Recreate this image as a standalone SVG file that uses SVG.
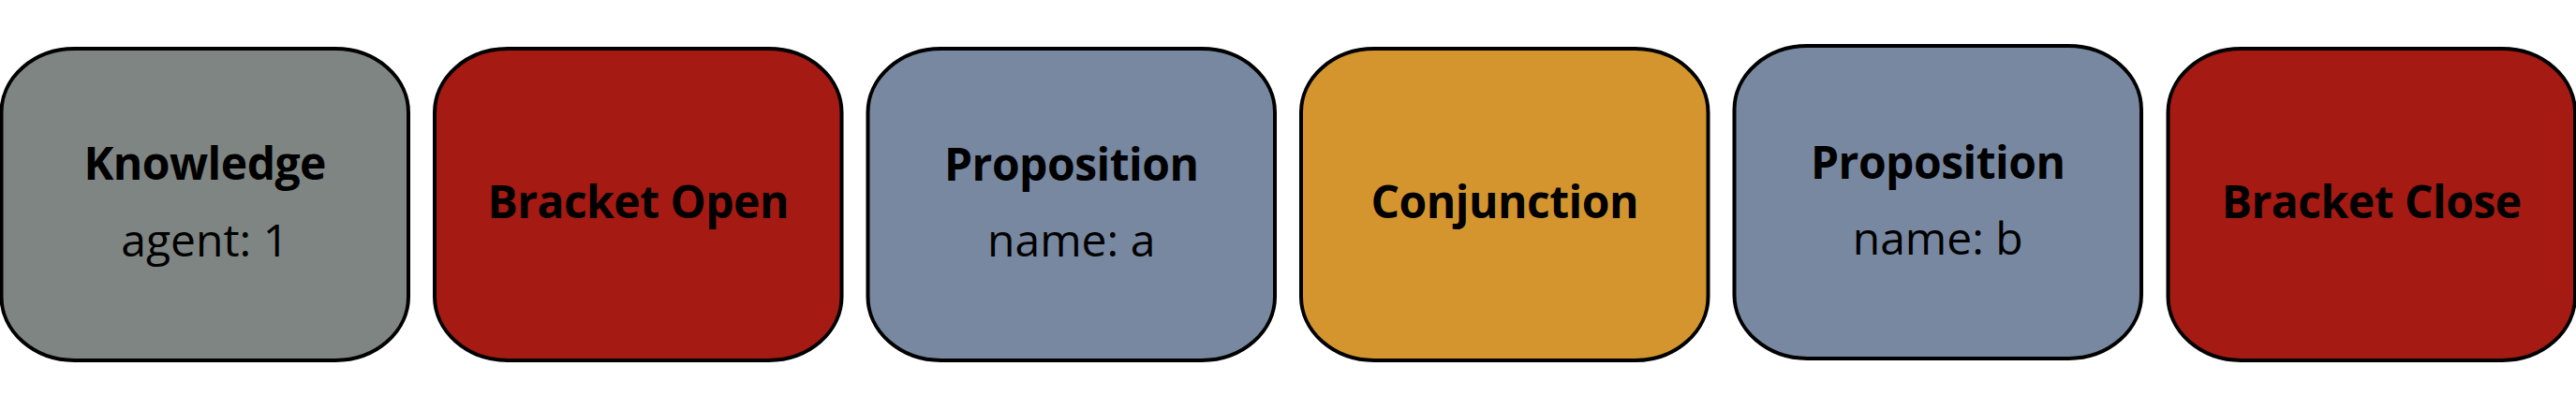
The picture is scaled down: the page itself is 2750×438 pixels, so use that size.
<svg xmlns="http://www.w3.org/2000/svg" width="2750" height="438" viewBox="0 0 2750 438">
<style>
.box{stroke:#000;stroke-width:4}
.t{font-family:"Open Sans","Noto Sans","Liberation Sans",sans-serif;font-size:48px;text-anchor:middle;fill:#000}
.b{font-weight:700;letter-spacing:-0.5px}
.gray{fill:#7f8582}
.red{fill:#a51a12}
.blue{fill:#7788a0}
.orange{fill:#d4952e}
</style>
<rect width="2750" height="438" fill="#fff"/>
<g id="connectors"></g>
<g id="node-knowledge">
<rect class="box gray" x="1.5" y="52" width="434.5" height="333" rx="78" ry="68"/>
<text class="t b" x="218.7" y="192">Knowledge</text>
<text class="t" x="218.7" y="274">agent: 1</text>
</g>
<g id="node-bracket-open">
<rect class="box red" x="464" y="52" width="434.5" height="333" rx="78" ry="68"/>
<text class="t b" x="681.2" y="232.7">Bracket Open</text>
</g>
<g id="node-proposition-a">
<rect class="box blue" x="926.5" y="52" width="434.5" height="333" rx="78" ry="68"/>
<text class="t b" x="1143.7" y="192.5">Proposition</text>
<text class="t" x="1143.7" y="274">name: a</text>
</g>
<g id="node-conjunction">
<rect class="box orange" x="1389" y="52" width="434.5" height="333" rx="78" ry="68"/>
<text class="t b" x="1606.2" y="232.7">Conjunction</text>
</g>
<g id="node-proposition-b">
<rect class="box blue" x="1851.5" y="49" width="434.5" height="334" rx="78" ry="68"/>
<text class="t b" x="2068.7" y="190.5">Proposition</text>
<text class="t" x="2068.7" y="272">name: b</text>
</g>
<g id="node-bracket-close">
<rect class="box red" x="2314.5" y="52" width="434.5" height="333" rx="78" ry="68"/>
<text class="t b" x="2531.7" y="232.7">Bracket Close</text>
</g>
</svg>
